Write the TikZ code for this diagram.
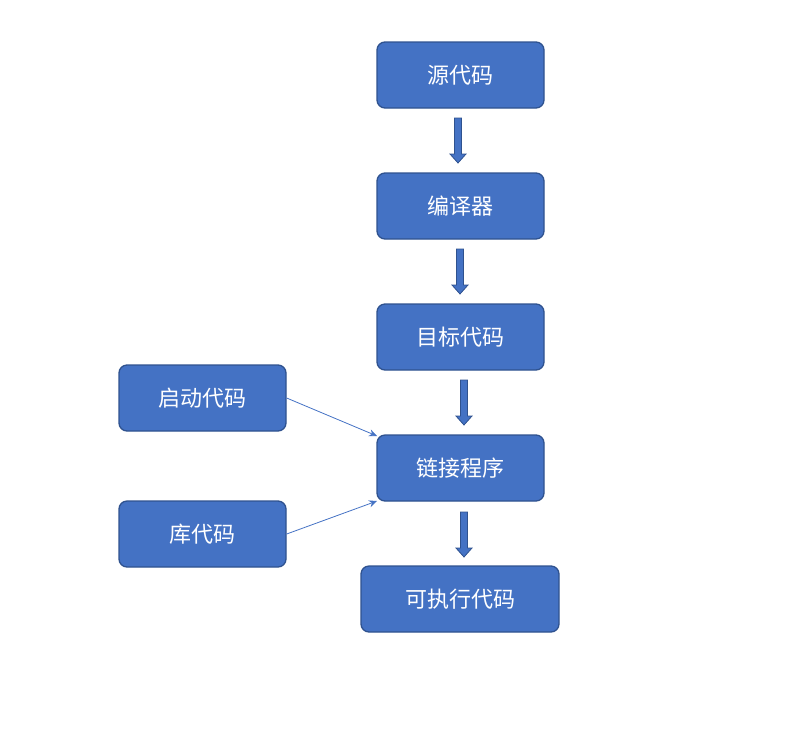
\documentclass[tikz,border=0pt]{standalone}
\usepackage{fontspec}
\newfontfamily\cjk{Noto Sans CJK SC}
\usetikzlibrary{arrows.meta}
\definecolor{boxfill}{HTML}{4472C4}
\definecolor{boxline}{HTML}{2F528F}
\begin{document}
\begin{tikzpicture}[x=1pt,y=-1pt,
  box/.style={draw=boxline,line width=1.3pt,fill=boxfill,rounded corners=8pt,text=white,font=\cjk\fontsize{22}{26}\selectfont,inner sep=0pt},
  thin/.style={draw=boxfill,line width=0.8pt,-{Stealth[length=8pt,width=7pt]}}]
\useasboundingbox (0,0) rectangle (791,737);
\node[box,minimum width=167pt,minimum height=66pt] (a) at (460.5,75) {源代码};
\node[box,minimum width=167pt,minimum height=66pt] (b) at (460.5,206) {编译器};
\node[box,minimum width=167pt,minimum height=66pt] (c) at (460.5,337) {目标代码};
\node[box,minimum width=167pt,minimum height=66pt] (d) at (460.5,468) {链接程序};
\node[box,minimum width=198pt,minimum height=66pt] (e) at (460,599) {可执行代码};
\node[box,minimum width=167pt,minimum height=66pt] (s) at (202.5,398) {启动代码};
\node[box,minimum width=167pt,minimum height=66pt] (l) at (202.5,534) {库代码};
\foreach \x/\y in {458/118,460/249,464/380,464/512}{
  \fill[boxfill,draw=boxline,line width=0.8pt] (\x-3.5,\y) -- (\x+3.5,\y) -- (\x+3.5,\y+36) -- (\x+8,\y+36) -- (\x,\y+45) -- (\x-8,\y+36) -- (\x-3.5,\y+36) -- cycle;
}
\draw[thin] (s.east) -- (377,436);
\draw[thin] (l.east) -- (377,501);
\end{tikzpicture}
\end{document}
